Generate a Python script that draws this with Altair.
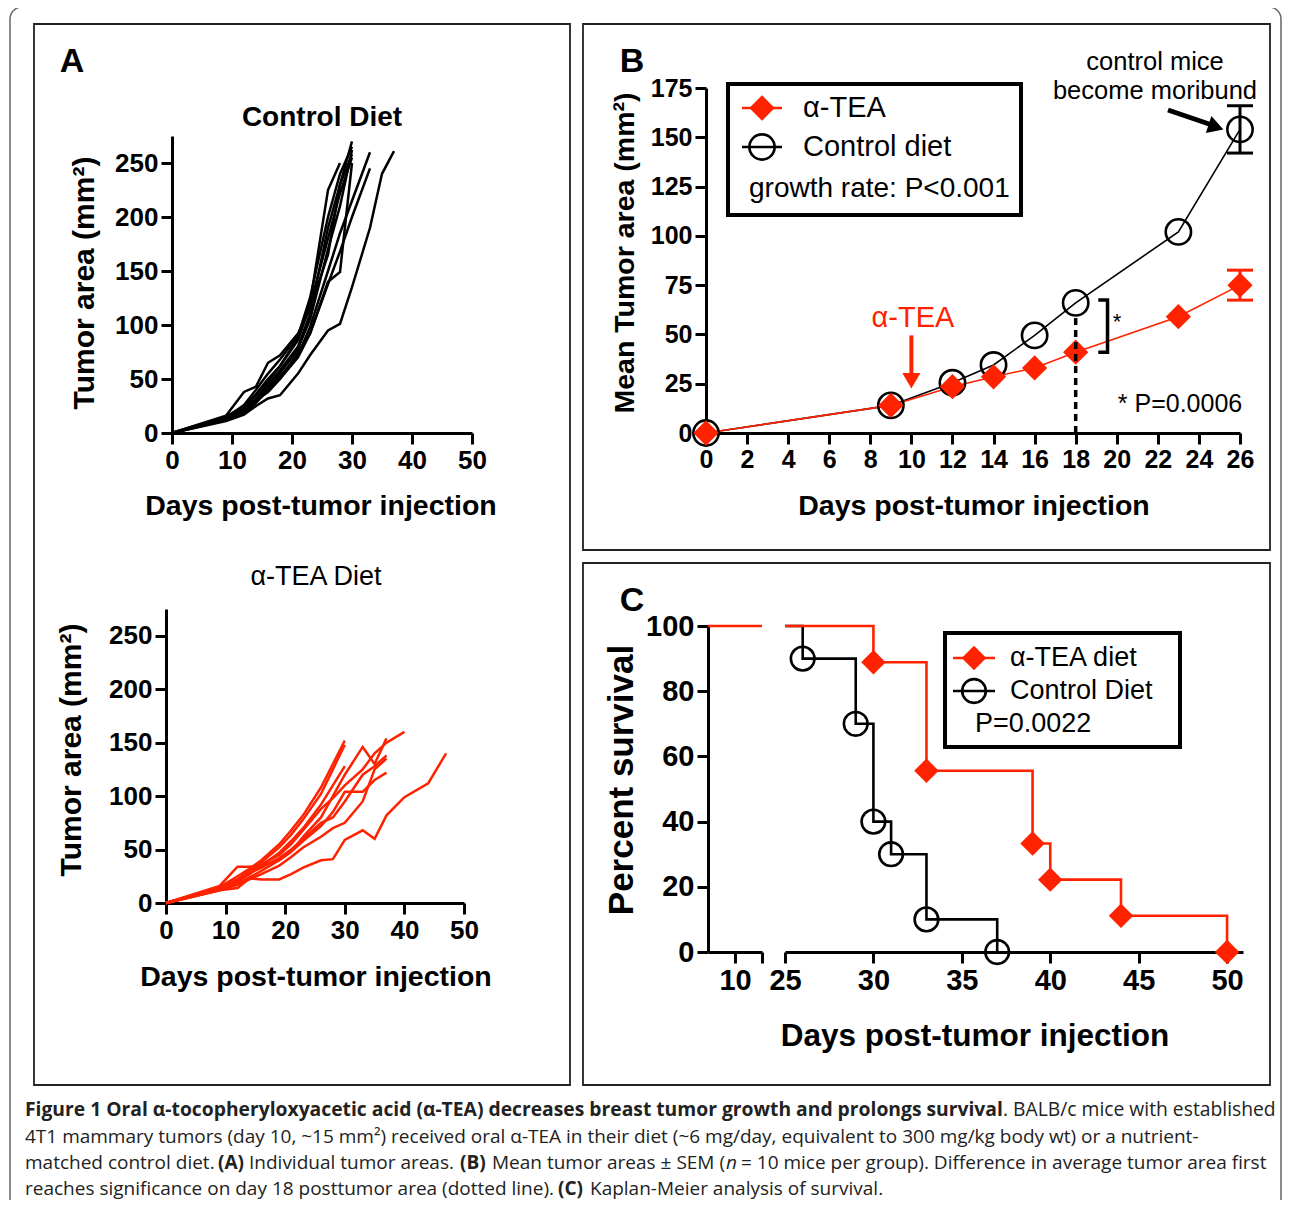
import altair as alt
import pandas as pd

# ---------------- data ----------------
# Panel A (top): individual tumour areas, control diet (mm^2)
A_CTRL_DAYS = [0, 9, 12, 14, 16, 18, 21, 23, 26, 28, 30, 33, 35, 37]
A_CTRL = {
    "c1": [0, 15, 25, 35, 48, 62, 88, 120, 225, 250],
    "c2": [0, 14, 22, 32, 45, 58, 80, 110, 190, 230, 270],
    "c3": [0, 13, 20, 30, 42, 55, 78, 105, 170, 210, 262],
    "c4": [0, 15, 24, 36, 50, 62, 86, 118, 180, 222, 255],
    "c5": [0, 12, 18, 28, 40, 52, 72, 98, 150, 185, 215, 260],
    "c6": [0, 12, 20, 30, 40, 50, 70, 92, 138, 168, 200, 245],
    "c7": [0, 11, 17, 25, 32, 35, 55, 72, 95, 101, 135, 190, 240, 261],
    "c8": [0, 16, 38, 43, 65, 72, 92, 115, 165, 230, 258],
    "c9": [0, 13, 22, 30, 38, 50, 75, 92, 140, 149, 250],
    "c10": [0, 14, 26, 40, 55, 68, 90, 125, 200, 240, 265],
}
# Panel A (bottom): individual tumour areas, alpha-TEA diet (mm^2)
A_TEA_DAYS = [0, 9, 12, 14, 16, 19, 21, 23, 26, 28, 30, 33, 35, 37, 40, 44, 47]
A_TEA = {
    "t1": [0, 15, 25, 32, 40, 55, 68, 82, 108, 130, 152],
    "t2": [0, 14, 22, 30, 38, 52, 64, 78, 102, 125, 148],
    "t3": [0, 13, 20, 27, 35, 47, 58, 70, 92, 110, 128],
    "t4": [0, 16, 34, 34, 35, 40, 48, 62, 80, 100, 120, 146, 130, 154],
    "t5": [0, 12, 18, 24, 30, 40, 48, 58, 72, 85, 104, 104, 115, 122],
    "t6": [0, 13, 20, 28, 33, 42, 50, 60, 75, 80, 95, 120, 128, 138],
    "t7": [0, 12, 17, 22, 27, 35, 43, 52, 62, 70, 75, 95, 125, 135],
    "t8": [0, 12, 14, 23, 22, 22, 27, 33, 40, 41, 59, 68, 60, 82, 99, 112, 140],
    "t9": [0, 14, 22, 30, 36, 45, 55, 68, 88, 98, 110, 125, 140, 150, 160],
}
# Panel B: mean tumour area
B_DAYS = [0, 9, 12, 14, 16, 18, 23, 26]
B_TEA = [0, 14, 23.5, 28.5, 33, 41, 59, 75]
B_CTRL = [0, 14, 25.5, 34.5, 49.5, 66, 102, 154]
B_SEM_DAYS = [26]
B_TEA_SEM = [7.6]
B_CTRL_SEM = [12]
# Panel C: Kaplan-Meier survival (%)
C_TEA_DAYS = [25, 30, 33, 39, 40, 44, 50]
C_TEA_SURV = [100, 88.9, 55.6, 33.3, 22.2, 11.1, 0]
C_CTRL_DAYS = [25, 26, 29, 30, 31, 33, 37]
C_CTRL_SURV = [100, 90, 70, 40, 30, 10, 0]
C_LEFT_DAYS = [8.5, 11.5]
C_LEFT_SURV = [100, 100]

# ---------------- styling ----------------
W, H = 1274, 1192
M = 8
RED = "#ff2200"
FONT = "Liberation Sans"
CAP = "Open Sans"


def sc(domain, lo, hi):
    return alt.Scale(domain=domain, range=[lo - M, hi - M], nice=False, zero=False)


AX = dict(grid=False, title=None, domainColor="black", domainWidth=3,
          tickColor="black", tickWidth=3, tickSize=11, labelColor="black",
          labelFont=FONT, labelFontWeight="bold", labelOverlap=False,
          labelFlush=False, labelPadding=3)


def xaxis(ypage, values, size, fmt="d", **kw):
    return alt.Axis(orient="bottom", offset=(ypage - M) - H, values=values,
                    labelFontSize=size, format=fmt, **AX, **kw)


def yaxis(xpage, values, size, **kw):
    return alt.Axis(orient="left", offset=-(xpage - M), values=values,
                    labelFontSize=size, format="d", **AX, **kw)


PX = dict(scale=None, axis=None)


def texts(rows, size, weight="normal", color="black", font=FONT, align="center",
          angle=0, style="normal"):
    df = pd.DataFrame(rows, columns=["x", "y", "t"])
    df["x"] = df["x"] - M
    df["y"] = df["y"] - M
    return alt.Chart(df).mark_text(
        font=font, fontSize=size, fontWeight=weight, fontStyle=style, color=color,
        align=align, baseline="middle", angle=angle
    ).encode(x=alt.X("x:Q", **PX), y=alt.Y("y:Q", **PX), text="t:N")


def boxes(rows, width, color, radius=0):
    df = pd.DataFrame(rows, columns=["x", "y", "x2", "y2"]) - M
    return alt.Chart(df).mark_rect(
        fillOpacity=0, stroke=color, strokeWidth=width, cornerRadius=radius
    ).encode(x=alt.X("x:Q", **PX), x2="x2:Q", y=alt.Y("y:Q", **PX), y2="y2:Q")


def segs(rows, width, color):
    df = pd.DataFrame(rows, columns=["x", "y", "x2", "y2"]) - M
    return alt.Chart(df).mark_rule(strokeWidth=width, color=color).encode(
        x=alt.X("x:Q", **PX), x2="x2:Q", y=alt.Y("y:Q", **PX), y2="y2:Q")


def syms(rows, shape, size, filled, color, width=2.5, angle=0):
    df = pd.DataFrame(rows, columns=["x", "y"]) - M
    return alt.Chart(df).mark_point(
        shape=shape, size=size, filled=filled, color=color, strokeWidth=width,
        opacity=1, angle=angle
    ).encode(x=alt.X("x:Q", **PX), y=alt.Y("y:Q", **PX))


# ---------------- panel A ----------------
def long(days, mice):
    return pd.DataFrame([{"day": d, "area": v, "mouse": k}
                         for k, vals in mice.items() for d, v in zip(days, vals)])


a1 = alt.Chart(long(A_CTRL_DAYS, A_CTRL)).mark_line(color="black", strokeWidth=2.5).encode(
    x=alt.X("day:Q", scale=sc([0, 50], 172, 472), axis=xaxis(433, [0, 10, 20, 30, 40, 50], 26)),
    y=alt.Y("area:Q", scale=sc([0, 275], 433, 136), axis=yaxis(172, [0, 50, 100, 150, 200, 250], 26)),
    detail="mouse:N")

a2 = alt.Chart(long(A_TEA_DAYS, A_TEA)).mark_line(color=RED, strokeWidth=2.5).encode(
    x=alt.X("day:Q", scale=sc([0, 50], 166, 464), axis=xaxis(903, [0, 10, 20, 30, 40, 50], 26)),
    y=alt.Y("area:Q", scale=sc([0, 275], 903, 609), axis=yaxis(166, [0, 50, 100, 150, 200, 250], 26)),
    detail="mouse:N")

# ---------------- panel B ----------------
bxs = sc([0, 26], 706, 1240)
bys = sc([0, 175], 433, 88)
dfb = pd.DataFrame({"day": B_DAYS, "tea": B_TEA, "ctrl": B_CTRL})
tea_at = [B_TEA[B_DAYS.index(d)] for d in B_SEM_DAYS]
ctrl_at = [B_CTRL[B_DAYS.index(d)] for d in B_SEM_DAYS]
dfsem = pd.DataFrame({"day": B_SEM_DAYS,
                      "tlo": [m - s for m, s in zip(tea_at, B_TEA_SEM)],
                      "thi": [m + s for m, s in zip(tea_at, B_TEA_SEM)],
                      "clo": [m - s for m, s in zip(ctrl_at, B_CTRL_SEM)],
                      "chi": [m + s for m, s in zip(ctrl_at, B_CTRL_SEM)]})


def bX(ax=None):
    return alt.X("day:Q", scale=bxs, axis=ax)


def bY(f, ax=None):
    return alt.Y(f, scale=bys, axis=ax)


b_layers = [
    alt.Chart(dfb).mark_line(color="black", strokeWidth=1.6).encode(
        x=bX(xaxis(433, list(range(0, 27, 2)), 25)),
        y=bY("ctrl:Q", yaxis(706, [0, 25, 50, 75, 100, 125, 150, 175], 25))),
    alt.Chart(dfb).mark_line(color=RED, strokeWidth=1.6).encode(x=bX(), y=bY("tea:Q")),
    alt.Chart(dfsem).mark_rule(color="black", strokeWidth=3).encode(x=bX(), y=bY("clo:Q"), y2="chi:Q"),
    alt.Chart(dfsem).mark_rule(color=RED, strokeWidth=3).encode(x=bX(), y=bY("tlo:Q"), y2="thi:Q"),
]
for f, col in [("clo:Q", "black"), ("chi:Q", "black"), ("tlo:Q", RED), ("thi:Q", RED)]:
    b_layers.append(alt.Chart(dfsem).mark_tick(orient="horizontal", size=26, thickness=3,
                                               color=col, opacity=1).encode(x=bX(), y=bY(f)))
b_layers += [
    alt.Chart(dfb).mark_point(shape="circle", size=640, filled=False, color="black",
                              strokeWidth=2.6, opacity=1).encode(x=bX(), y=bY("ctrl:Q")),
    alt.Chart(dfb).mark_point(shape="diamond", size=640, filled=True, color=RED,
                              opacity=1).encode(x=bX(), y=bY("tea:Q")),
    alt.Chart(pd.DataFrame({"day": [18], "y0": [0], "y1": [59]})).mark_rule(
        color="black", strokeWidth=3.5, strokeDash=[7, 5]).encode(x=bX(), y=bY("y0:Q"), y2="y1:Q"),
    alt.Chart(pd.DataFrame({"day": [19.1, 19.55, 19.55, 19.1], "v": [67.5, 67.5, 41, 41],
                            "i": [0, 1, 2, 3]})).mark_line(color="black", strokeWidth=3.5).encode(
        x=bX(), y=bY("v:Q"), order="i:Q"),
    alt.Chart(pd.DataFrame({"day": [10], "y0": [49.5], "y1": [30]})).mark_rule(
        color=RED, strokeWidth=4).encode(x=bX(), y=bY("y0:Q"), y2="y1:Q"),
    alt.Chart(pd.DataFrame({"day": [10], "v": [26.5]})).mark_point(
        shape="triangle-down", size=330, filled=True, color=RED, opacity=1).encode(x=bX(), y=bY("v:Q")),
]

# ---------------- panel C ----------------
cxs = sc([25, 50.9], 785, 1243)
cys = sc([0, 100], 952, 626)
dfct = pd.DataFrame({"day": C_TEA_DAYS, "s": C_TEA_SURV})
dfcc = pd.DataFrame({"day": C_CTRL_DAYS, "s": C_CTRL_SURV})


def cX(ax=None):
    return alt.X("day:Q", scale=cxs, axis=ax)


def cY(ax=None):
    return alt.Y("s:Q", scale=cys, axis=ax)


c_layers = [
    alt.Chart(dfcc).mark_line(color="black", strokeWidth=2.6, interpolate="step-after").encode(
        x=cX(xaxis(952, [25, 30, 35, 40, 45, 50], 29)),
        y=cY(yaxis(708, [0, 20, 40, 60, 80, 100], 29))),
    alt.Chart(dfct).mark_line(color=RED, strokeWidth=2.6, interpolate="step-after").encode(x=cX(), y=cY()),
    alt.Chart(dfcc.iloc[1:]).mark_point(shape="circle", size=560, filled=False, color="black",
                                        strokeWidth=2.6, opacity=1).encode(x=cX(), y=cY()),
    alt.Chart(dfct.iloc[1:]).mark_point(shape="diamond", size=600, filled=True, color=RED,
                                        opacity=1).encode(x=cX(), y=cY()),
    alt.Chart(pd.DataFrame({"day": C_LEFT_DAYS, "s": C_LEFT_SURV})).mark_line(
        color=RED, strokeWidth=2.6).encode(
        x=alt.X("day:Q", scale=sc([8.5, 11.5], 708, 762),
                axis=xaxis(952, [10, 11.5], 29, labelExpr="datum.value == 10 ? '10' : ''")),
        y=cY()),
]

# ---------------- frames, legends, annotations ----------------
frames = [
    boxes([[10, 7, 1281, 1212]], 1.5, "#666666", radius=12),
    boxes([[34, 24, 570, 1085], [583, 24, 1270, 550], [583, 563, 1270, 1085]], 1.8, "#222222"),
    boxes([[728, 84, 1021, 215], [945, 633, 1180, 747]], 4, "black"),
]

legend_marks = [
    segs([[742, 108, 782, 108], [953, 658, 995, 658]], 2.5, RED),
    segs([[742, 147, 782, 147], [953, 691, 995, 691]], 2.5, "black"),
    syms([[762, 108]], "diamond", 640, True, RED),
    syms([[974, 658]], "diamond", 600, True, RED),
    syms([[762, 147]], "circle", 640, False, "black", 2.6),
    syms([[974, 691]], "circle", 560, False, "black", 2.6),
    segs([[1168, 110, 1212, 125]], 5, "black"),
    syms([[1216, 127]], "triangle-up", 320, True, "black", 1, angle=108),
]

labels = [
    texts([[72, 62, "A"], [632, 62, "B"], [632, 601, "C"]], 34, "bold"),
    texts([[322, 118, "Control Diet"]], 28, "bold"),
    texts([[316, 577, "α-TEA Diet"]], 27),
    texts([[321, 506, "Days post-tumor injection"], [316, 977, "Days post-tumor injection"],
           [974, 506, "Days post-tumor injection"]], 28.5, "bold"),
    texts([[975, 1037, "Days post-tumor injection"]], 31.5, "bold"),
    texts([[85, 283, "Tumor area (mm²)"], [72, 750, "Tumor area (mm²)"]], 30, "bold", angle=270),
    texts([[625, 253, "Mean Tumor area (mm²)"]], 28.5, "bold", angle=270),
    texts([[622, 780, "Percent survival"]], 35, "bold", angle=270),
    texts([[913, 318, "α-TEA"]], 29, color=RED),
    texts([[1155, 62, "control mice"], [1155, 91, "become moribund"]], 25.5),
    texts([[1180, 404, "* P=0.0006"]], 25),
    texts([[1117, 322, "*"]], 22),
    texts([[803, 108, "α-TEA"], [803, 147, "Control diet"]], 29, align="left"),
    texts([[749, 189, "growth rate: P<0.001"]], 28, align="left"),
    texts([[1010, 658, "α-TEA diet"], [1010, 691, "Control Diet"], [975, 724, "P=0.0022"]],
          27, align="left"),
]

CAPC = "#222222"
caption = [
    texts([[25, 1110, "Figure 1 Oral α-tocopheryloxyacetic acid (α-TEA) decreases breast tumor growth and prolongs survival"]],
          19.3, "bold", CAPC, CAP, "left"),
    texts([[1003, 1110, ". BALB/c mice with established"]], 19.3, "normal", CAPC, CAP, "left"),
    texts([[218, 1163, "(A)"], [460, 1163, "(B)"], [558, 1189, "(C)"]], 19, "bold", CAPC, CAP, "left"),
    texts([[25, 1137, "4T1 mammary tumors (day 10, ~15 mm²) received oral α-TEA in their diet (~6 mg/day, equivalent to 300 mg/kg body wt) or a nutrient-"],
           [25, 1163, "matched control diet."], [249, 1163, "Individual tumor areas."],
           [492, 1163, "Mean tumor areas ± SEM ("],
           [741, 1163, "= 10 mice per group). Difference in average tumor area first"],
           [25, 1189, "reaches significance on day 18 posttumor area (dotted line)."],
           [590, 1189, "Kaplan-Meier analysis of survival."]],
          19, "normal", CAPC, CAP, "left"),
    texts([[726, 1163, "n"]], 19, "normal", CAPC, CAP, "left", style="italic"),
]

chart = alt.layer(
    *frames, a1, a2, *b_layers, *c_layers, *legend_marks, *labels, *caption
).resolve_scale(x="independent", y="independent").properties(
    width=W, height=H, padding=0, autosize=alt.AutoSizeParams(type="none"),
    background="white"
).configure_view(stroke=None)

chart.save("out.html", embed_options={"renderer": "svg", "actions": False})
